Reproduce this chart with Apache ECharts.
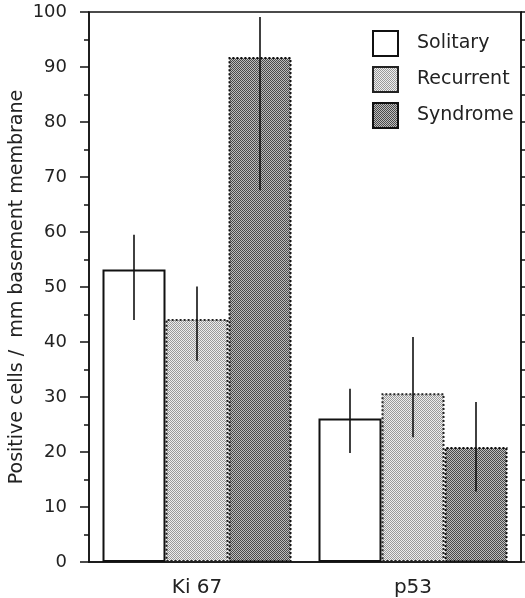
<!DOCTYPE html>
<html>
<head>
<meta charset="utf-8">
<script src="https://cdn.jsdelivr.net/npm/echarts@6/dist/echarts.min.js"></script>
<style>
  html, body { margin: 0; padding: 0; background: #fff; }
  #chart { width: 525px; height: 598px; }
</style>
</head>
<body>
<div id="chart"></div>
<script>
// Markers and groups
const categories = ['Ki 67', 'p53'];
const seriesNames = ['Solitary', 'Recurrent', 'Syndrome'];

// Mean counts per group (positive cells / mm basement membrane)
const solitary  = [53.2, 26.1];
const recurrent = [44.2, 30.7];
const syndrome  = [91.8, 20.9];

// Error bar ends (lower, upper) per group
const solitaryLow  = [44.0, 19.8];
const solitaryHigh = [59.5, 31.5];
const recurrentLow  = [36.6, 22.7];
const recurrentHigh = [50.1, 40.9];
const syndromeLow  = [67.6, 12.8];
const syndromeHigh = [99.1, 29.1];

const yTicks = { min: 0, max: 100, interval: 10 };

// Fine checker textures for the shaded bars
function checker(dark, light) {
  const c = document.createElement('canvas');
  c.width = 2; c.height = 2;
  const ctx = c.getContext('2d');
  ctx.fillStyle = light; ctx.fillRect(0, 0, 2, 2);
  ctx.fillStyle = dark;
  ctx.fillRect(0, 0, 1, 1);
  ctx.fillRect(1, 1, 1, 1);
  return { image: c, repeat: 'repeat' };
}

const FONT = 'DejaVu Sans';
const BAR_W = 63;
const chart = echarts.init(document.getElementById('chart'), null, { renderer: 'canvas' });

const barStyles = [
  { color: '#ffffff', borderColor: '#111', borderWidth: 2 },
  { color: checker('#9a9a9a', '#eeeeee'), borderColor: '#222', borderWidth: 2, borderType: 'dotted' },
  { color: checker('#4a4a4a', '#bdbdbd'), borderColor: '#111', borderWidth: 2, borderType: 'dotted' }
];
const values = [solitary, recurrent, syndrome];
const lows = [solitaryLow, recurrentLow, syndromeLow];
const highs = [solitaryHigh, recurrentHigh, syndromeHigh];

const barSeries = seriesNames.map((name, i) => ({
  name: name,
  type: 'bar',
  data: values[i],
  barWidth: BAR_W,
  barGap: '0%',
  itemStyle: barStyles[i],
  emphasis: { disabled: true },
  z: 2
}));

// Vertical error bars placed on each bar through the axis scales
const errorSeries = seriesNames.map((name, i) => ({
  type: 'custom',
  name: name + ' error',
  data: categories.map((c, k) => [k, lows[i][k], highs[i][k]]),
  z: 5,
  silent: true,
  renderItem: function (params, api) {
    const k = api.value(0);
    const lo = api.coord([k, api.value(1)]);
    const hi = api.coord([k, api.value(2)]);
    // offset of the i-th bar within its group
    const x = lo[0] + (i - 1) * BAR_W;
    return {
      type: 'line',
      shape: { x1: x, y1: lo[1], x2: x, y2: hi[1] },
      style: { stroke: '#111', lineWidth: 1.6 }
    };
  }
}));

const option = {
  animation: false,
  backgroundColor: '#fff',
  textStyle: { fontFamily: FONT, color: '#222' },
  grid: {
    left: 89, right: 4, top: 12, bottom: 36,
    outerBoundsMode: 'none',
    containLabel: false,
    show: true, borderColor: '#111', borderWidth: 1.5, backgroundColor: 'transparent'
  },
  legend: {
    data: seriesNames,
    orient: 'vertical',
    left: 372,
    top: 30,
    padding: 0,
    itemWidth: 25,
    itemHeight: 25,
    itemGap: 9,
    selectedMode: false,
    icon: 'rect',
    textStyle: { fontFamily: FONT, fontSize: 19, color: '#222', padding: [0, 0, 0, 14] }
  },
  xAxis: {
    type: 'category',
    data: categories,
    axisLine: { lineStyle: { color: '#111', width: 1.5 } },
    axisTick: { show: false },
    axisLabel: { fontFamily: FONT, fontSize: 20, color: '#222', margin: 16 }
  },
  yAxis: [
    {
      type: 'value',
      min: yTicks.min, max: yTicks.max, interval: yTicks.interval,
      name: 'Positive cells /  mm basement membrane',
      nameLocation: 'middle',
      nameGap: 62,
      nameMoveOverlap: false,
      nameTextStyle: { fontFamily: FONT, fontSize: 19, color: '#222' },
      axisLine: { show: true, lineStyle: { color: '#111', width: 1.5 } },
      axisTick: { show: true, length: 9, lineStyle: { color: '#111', width: 1.5 } },
      minorTick: { show: true, splitNumber: 2, length: 5, lineStyle: { color: '#111', width: 1.5 } },
      splitLine: { show: false },
      axisLabel: { fontFamily: FONT, fontSize: 18, color: '#222', margin: 22 }
    },
    {
      type: 'value',
      position: 'right',
      min: yTicks.min, max: yTicks.max, interval: 5,
      axisLine: { show: true, lineStyle: { color: '#111', width: 1.5 } },
      axisTick: { show: true, length: 5, lineStyle: { color: '#111', width: 1.5 } },
      splitLine: { show: false },
      axisLabel: { show: false }
    }
  ],
  series: barSeries.concat(errorSeries)
};

chart.setOption(option);
</script>
</body>
</html>
